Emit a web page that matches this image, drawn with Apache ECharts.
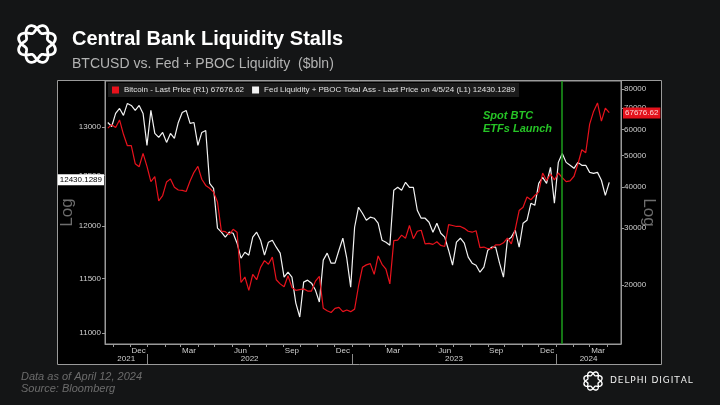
<!DOCTYPE html>
<html>
<head>
<meta charset="UTF-8">
<title>Central Bank Liquidity Stalls</title>
<script src="https://cdn.jsdelivr.net/npm/echarts@6/dist/echarts.min.js"></script>
<style>
*{margin:0;padding:0}
html,body{width:100%;height:100%;background:#141516}
#main{width:720px;height:405px}
</style>
</head>
<body>
<div id="main"></div>
<script>
// weekly samples (Fridays), first one 2021-10-22, last one 2024-04-05
var firstFriday = Date.UTC(2021, 9, 22);
var WEEK = 7 * 86400000;

// Fed Liquidity + PBOC total assets, $bln (left axis, L1)
var fedValues = [
    13049,13007,13145,13198,13124,13252,13230,13177,13230,13145,
    12809,13177,12934,12892,12944,12840,12934,12882,13049,13155,
    13177,13039,13049,12809,12944,12965,12421,12371,11978,11939,
    11891,11939,11929,11833,11690,11747,11719,11891,11939,11862,
    11719,11843,11862,11795,11738,11512,11558,11512,11273,11146,
    11466,11484,11456,11392,11282,11672,11738,11643,11643,11766,
    11881,11690,11419,11987,12183,12124,12055,12085,12075,12026,
    11862,11843,11814,12351,12381,12351,12432,12381,12381,12153,
    12075,12075,12036,11939,12026,11929,11891,11766,11624,11843,
    11881,11833,11700,11643,11624,11558,11605,11766,11795,11795,
    11643,11512,11862,11891,11958,11795,12026,12055,12222,12202,
    12421,12482,12421,12583,12222,12634,12726,12634,12604,12573,
    12634,12604,12604,12532,12522,12532,12452,12301,12430.1289
];

// Bitcoin last price, USD (right axis, R1)
var btcValues = [
    60700,62200,61000,64300,58100,53600,53600,47200,46200,50800,
    46300,41600,43100,36300,37700,41500,42400,40000,39200,39100,
    38800,41800,44400,46300,42300,40500,39700,38600,36000,29300,
    29200,28600,29700,29100,20400,21200,19300,21600,20800,22700,
    23800,23200,24400,20800,20200,19800,21400,19700,19300,19400,
    19500,19200,19200,20600,21300,17000,16700,16500,17000,17100,
    16600,16800,16600,16900,19900,22700,23100,23300,21600,24600,
    23200,22400,20200,27400,27500,28500,27900,30500,27800,29300,
    29500,26800,26900,26700,27200,26500,26300,30700,30500,30300,
    30300,29900,29300,29100,29400,26100,26200,25900,25900,26600,
    26600,27000,27900,26800,29700,33900,34700,37300,36600,37700,
    38700,44200,41900,43900,42100,44200,42800,41600,41800,43200,
    47100,52100,51000,62400,68300,72500,63800,69900,67676.62
];

var leftTicks = [11000, 11500, 12000, 12500, 13000];
var rightTicks = [20000, 30000, 40000, 50000, 60000, 70000, 80000];
var monthLabelDates = ['2021-12','2022-03','2022-06','2022-09','2022-12','2023-03','2023-06','2023-09','2023-12','2024-03'];
var yearLabels = [2021, 2022, 2023, 2024];
var monthNames = ['Jan','Feb','Mar','Apr','May','Jun','Jul','Aug','Sep','Oct','Nov','Dec'];

var etfLaunch = Date.UTC(2024, 0, 11);
var xMin = Date.UTC(2021, 9, 17);
var xMax = Date.UTC(2024, 3, 26);

var btcName = 'Bitcoin - Last Price (R1) 67676.62';
var fedName = 'Fed Liquidity + PBOC Total Ass - Last Price on 4/5/24 (L1) 12430.1289';

var fedData = fedValues.map(function (v, i) { return [firstFriday + i * WEEK, Math.log(v)]; });
var btcData = btcValues.map(function (v, i) { return [firstFriday + i * WEEK, Math.log(v)]; });

// month boundaries for small ticks
var monthStarts = [];
for (var y = 2021; y <= 2024; y++) {
    for (var m = 0; m < 12; m++) {
        var t = Date.UTC(y, m, 1);
        if (t > xMin && t < xMax) monthStarts.push(t);
    }
}
var monthLabelVals = monthLabelDates.map(function (s) {
    var p = s.split('-');
    return Date.UTC(+p[0], +p[1] - 1, 16);
});
var yearStarts = [Date.UTC(2022, 0, 1), Date.UTC(2023, 0, 1), Date.UTC(2024, 0, 1)];
var yearLabelVals = yearLabels.map(function (yr) {
    var a = Math.max(xMin, Date.UTC(yr, 0, 1));
    var b = Math.min(xMax, Date.UTC(yr + 1, 0, 1));
    return (a + b) / 2;
});

// braided ring logo: two wavy strands round a circle
function logo(cx, cy, R, a, w) {
    var strands = [];
    [1, -1].forEach(function (sgn) {
        var pts = [];
        for (var k = 0; k <= 160; k++) {
            var th = k / 160 * Math.PI * 2;
            var r = R + sgn * a * Math.sin(4 * th);
            pts.push([cx + r * Math.cos(th), cy + r * Math.sin(th)]);
        }
        strands.push({ type: 'polyline', shape: { points: pts },
                       style: { fill: null, stroke: '#fff', lineWidth: w } });
    });
    return strands;
}

var axisText = { color: '#cfcfcf', fontSize: 8, fontFamily: 'Liberation Sans' };

var option = {
    backgroundColor: '#141516',
    animation: false,
    textStyle: { fontFamily: 'Liberation Sans' },
    graphic: [
        { type: 'rect', z: -10, shape: { x: 57.5, y: 80.5, width: 604, height: 284 },
          style: { fill: '#000', stroke: '#9a9a9a', lineWidth: 1 } },
        { type: 'group', children: logo(37, 44, 15.5, 4, 2.8) },
        { type: 'text', left: 72, top: 29,
          style: { text: 'Central Bank Liquidity Stalls', fill: '#fff', font: 'bold 20px "Liberation Sans"' } },
        { type: 'text', left: 72, top: 57,
          style: { text: 'BTCUSD vs. Fed + PBOC Liquidity  ($bln)', fill: '#b3b3b3', font: '14px "Liberation Sans"' } },
        { type: 'text', left: 483, top: 109,
          style: { text: 'Spot BTC\nETFs Launch', fill: '#26c426', lineHeight: 13,
                   font: 'italic bold 11px "Liberation Sans"' } },
        { type: 'text', left: 21, top: 371,
          style: { text: 'Data as of April 12, 2024', fill: '#6c6c6c', font: 'italic 11px "Liberation Sans"' } },
        { type: 'text', left: 21, top: 383.5,
          style: { text: 'Source: Bloomberg', fill: '#6c6c6c', font: 'italic 11px "Liberation Sans"' } },
        { type: 'group', children: logo(593, 381, 7.6, 2, 1.4) },
        { type: 'text', left: 610, top: 376.5,
          style: { text: 'D\u200AE\u200AL\u200AP\u200AH\u200AI\u2002D\u200AI\u200AG\u200AI\u200AT\u200AA\u200AL',
                   fill: '#f2f2f2', font: '9px "DejaVu Sans"' } }
    ],
    legend: {
        left: 108, top: 83,
        data: [btcName, fedName],
        icon: 'rect', itemWidth: 7, itemHeight: 7, itemGap: 8,
        backgroundColor: '#1b1b1b', padding: [3, 4],
        textStyle: { color: '#e0e0e0', fontSize: 8, fontFamily: 'Liberation Sans' },
        selectedMode: false
    },
    grid: {
        left: 105, right: 99, top: 81, bottom: 61,
        show: true, backgroundColor: '#000', borderColor: '#9a9a9a', borderWidth: 1
    },
    xAxis: [{
        type: 'value', min: xMin, max: xMax,
        axisLine: { show: true, lineStyle: { color: '#9a9a9a' } },
        axisTick: { show: true, customValues: monthStarts, length: 3, lineStyle: { color: '#9a9a9a' } },
        axisLabel: Object.assign({
            customValues: monthLabelVals, margin: 3,
            formatter: function (v) { return monthNames[new Date(v).getUTCMonth()]; }
        }, axisText),
        splitLine: { show: false }
    }, {
        type: 'value', min: xMin, max: xMax, position: 'bottom', offset: 10,
        axisLine: { show: false },
        axisTick: { show: true, customValues: yearStarts, length: 10, lineStyle: { color: '#8a8a8a' } },
        axisLabel: Object.assign({
            customValues: yearLabelVals, margin: 1,
            formatter: function (v) { return String(new Date(v).getUTCFullYear()); }
        }, axisText),
        splitLine: { show: false }
    }],
    yAxis: [{
        type: 'value', position: 'left',
        min: Math.log(10905), max: Math.log(13495),
        name: 'Log', nameLocation: 'middle', nameGap: 29, nameMoveOverlap: false,
        nameTextStyle: { color: '#6e6e6e', fontSize: 17, fontFamily: 'Liberation Sans' },
        axisLine: { show: true, lineStyle: { color: '#9a9a9a' } },
        axisTick: { show: true, length: 3, customValues: leftTicks.map(Math.log), lineStyle: { color: '#9a9a9a' } },
        axisLabel: Object.assign({
            customValues: leftTicks.map(Math.log), margin: 4,
            formatter: function (v) { return String(Math.round(Math.exp(v))); }
        }, axisText),
        splitLine: { show: false }
    }, {
        type: 'value', position: 'right',
        min: Math.log(13210), max: Math.log(84660),
        name: 'Log', nameLocation: 'middle', nameGap: 19, nameRotate: -90, nameMoveOverlap: false,
        nameTextStyle: { color: '#6e6e6e', fontSize: 17, fontFamily: 'Liberation Sans' },
        axisLine: { show: true, lineStyle: { color: '#9a9a9a' } },
        axisTick: { show: true, length: 3, customValues: rightTicks.map(Math.log), lineStyle: { color: '#9a9a9a' } },
        axisLabel: Object.assign({
            customValues: rightTicks.map(Math.log), margin: 3,
            formatter: function (v) { return String(Math.round(Math.exp(v))); }
        }, axisText),
        splitLine: { show: false }
    }],
    series: [{
        name: fedName, type: 'line', xAxisIndex: 0, yAxisIndex: 0,
        data: fedData, showSymbol: false, symbol: 'none',
        lineStyle: { color: '#f2f2f2', width: 1.2 }, itemStyle: { color: '#f2f2f2' },
        markLine: {
            silent: true, symbol: ['none', 'none'],
            data: [{ yAxis: Math.log(fedValues[fedValues.length - 1]) }],
            lineStyle: { color: 'rgba(0,0,0,0)', width: 0 },
            label: { show: true, position: 'start', distance: 1, formatter: '12430.1289',
                     backgroundColor: '#fff', color: '#000', fontSize: 8, padding: [2, 2, 1, 2] }
        }
    }, {
        name: btcName, type: 'line', xAxisIndex: 0, yAxisIndex: 1,
        data: btcData, showSymbol: false, symbol: 'none',
        lineStyle: { color: '#e8121c', width: 1.2 }, itemStyle: { color: '#e8121c' },
        markLine: {
            silent: true, symbol: ['none', 'none'],
            data: [
                { xAxis: etfLaunch, lineStyle: { color: '#1c9e1c', width: 1.5, type: 'solid' },
                  label: { show: false } },
                { yAxis: Math.log(btcValues[btcValues.length - 1]),
                  lineStyle: { color: 'rgba(0,0,0,0)', width: 0 },
                  label: { show: true, position: 'end', distance: 2, formatter: '67676.62',
                           backgroundColor: '#e3121c', color: '#ffd6d6', fontSize: 8, padding: [2, 2, 1, 2] } }
            ]
        }
    }]
};

var myChart = echarts.init(document.getElementById('main'));
myChart.setOption(option);
</script>
</body>
</html>
